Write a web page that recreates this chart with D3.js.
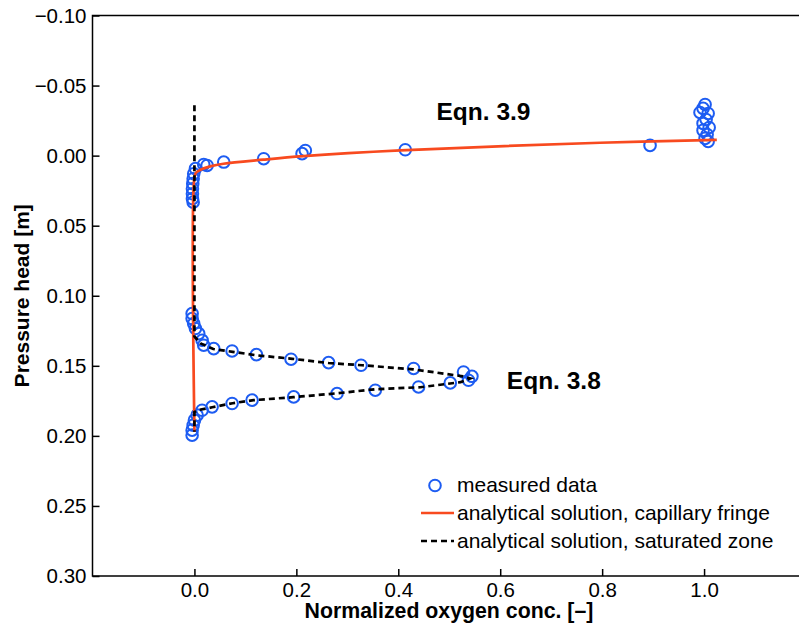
<!DOCTYPE html>
<html><head><meta charset="utf-8">
<script src="https://cdn.jsdelivr.net/npm/d3@7"></script>
<style>body{margin:0;background:#fff}svg{display:block}text{font-family:"Liberation Sans",Arial,Helvetica,sans-serif}</style>
</head><body><svg id="c" width="799" height="625"></svg>
<script>
// measured data
const measC = [0.002,-0.0014,-0.0025,-0.0033,-0.0039,-0.0039,-0.0039,-0.0025,0.0182,0.0249,0.0575,0.1359,0.2112,0.2176,0.4137,0.894,
  1.002,0.998,1.008,0.992,1.004,0.998,1.010,0.998,1.006,1.002,1.008,
  -0.0045,-0.0045,-0.0014,0.002,0.0084,0.0151,0.0182,0.0378,0.0739,0.1216,0.1896,0.2633,0.3269,0.4300,0.5280,0.5445,0.5378,
  0.5020,0.4398,0.3549,0.2798,0.1947,0.1131,0.0739,0.0347,0.0151,0.0053,0,-0.0025,-0.0045,-0.0045];
const measP = [0.0093,0.0129,0.0165,0.0200,0.0236,0.0272,0.0307,0.0332,0.0063,0.0070,0.0046,0.0022,-0.0014,-0.0037,-0.0042,-0.0073,
  -0.0365,-0.0337,-0.0301,-0.0308,-0.0258,-0.0230,-0.0201,-0.0180,-0.0151,-0.0123,-0.0101,
  0.1127,0.1163,0.1199,0.1234,0.1270,0.1318,0.1353,0.1377,0.1394,0.1420,0.1453,0.1477,0.1496,0.1519,0.1544,0.1575,0.1603,
  0.1622,0.1651,0.1674,0.1698,0.1722,0.1745,0.1769,0.1793,0.1817,0.1852,0.1888,0.1924,0.1959,0.1995];
// analytical solution, capillary fringe
const capC = [0,0,0.003,0.0118,0.031,0.057,0.135,0.214,0.404,0.796,1.025];
const capP = [0.197,0.0153,0.0122,0.0101,0.0077,0.0058,0.0029,0.0004,-0.0037,-0.0092,-0.0113];
// analytical solution, saturated zone
const satC = [0,0,0.012,0.037,0.075,0.122,0.192,0.263,0.329,0.429,0.527,0.541,0.522,0.443,0.355,0.280,0.194,0.116,0.075,0.035,0.006,0,0];
const satP = [-0.036,0.129,0.134,0.138,0.140,0.1425,0.145,0.148,0.1496,0.1525,0.1575,0.159,0.1617,0.1653,0.1667,0.1696,0.1724,0.1745,0.1767,0.1796,0.1817,0.183,0.197];
const xTicks = [0,0.2,0.4,0.6,0.8,1.0];
const yTicks = [-0.10,-0.05,0,0.05,0.10,0.15,0.20,0.25,0.30];
const legendLabels = ["measured data","analytical solution, capillary fringe","analytical solution, saturated zone"];
const annotations = [{t:"Eqn. 3.9",c:0.475,p:-0.0255},{t:"Eqn. 3.8",c:0.613,p:0.1665}];

const svg = d3.select("#c");
const L=92.5,R=806,T=15.5,B=576;
const x = d3.scaleLinear().domain([-0.2,1.2]).range([L,R]);
const y = d3.scaleLinear().domain([-0.10,0.30]).range([T,B]);
const blue="#1d5cf2", red="#f84a1f";

const g = svg.append("g");
g.selectAll("circle.m").data(measC.map((c,i)=>[c,measP[i]])).join("circle")
  .attr("cx",d=>x(d[0])).attr("cy",d=>y(d[1])).attr("r",5.8)
  .attr("fill","none").attr("stroke",blue).attr("stroke-width",2);
const line = d3.line().x(d=>x(d[0])).y(d=>y(d[1]));
g.append("path").datum(capC.map((c,i)=>[c,capP[i]]))
  .attr("d",line.curve(d3.curveCatmullRom)).attr("fill","none").attr("stroke",red).attr("stroke-width",2.7);
g.append("path").datum(satC.map((c,i)=>[c,satP[i]]))
  .attr("d",d3.line().x(d=>x(d[0])).y(d=>y(d[1]))).attr("fill","none").attr("stroke","#000")
  .attr("stroke-width",2.7).attr("stroke-dasharray","6,4");

svg.append("rect").attr("x",L).attr("y",T).attr("width",R-L).attr("height",B-T)
  .attr("fill","none").attr("stroke","#000").attr("stroke-width",1.5);
const xa = svg.append("g").attr("transform",`translate(0,${B})`)
  .call(d3.axisBottom(x).tickValues(xTicks).tickSizeInner(-7).tickSizeOuter(0).tickPadding(6).tickFormat(d3.format(".1f")));
xa.select(".domain").remove();
xa.selectAll("line").attr("stroke-width",1.5);
xa.selectAll("text").attr("font-size",20.5).attr("fill","#000");
const ya = svg.append("g").attr("transform",`translate(${L},0)`)
  .call(d3.axisLeft(y).tickValues(yTicks).tickSizeInner(-7).tickSizeOuter(0).tickPadding(6)
  .tickFormat(d=>(d<0?"\u2212":"")+d3.format(".2f")(Math.abs(d))));
ya.select(".domain").remove();
ya.selectAll("line").attr("stroke-width",1.5);
ya.selectAll("text").attr("font-size",20.5).attr("fill","#000");

svg.append("text").attr("x",449).attr("y",618).attr("text-anchor","middle")
  .attr("font-size",21.3).attr("font-weight","bold").text("Normalized oxygen conc. [\u2013]");
svg.append("text").attr("transform",`translate(29,${(T+B)/2}) rotate(-90)`).attr("text-anchor","middle")
  .attr("font-size",21).attr("font-weight","bold").text("Pressure head [m]");

svg.selectAll("text.ann").data(annotations).join("text").attr("class","ann")
  .attr("x",d=>x(d.c)).attr("y",d=>y(d.p)).attr("font-size",24.5).attr("font-weight","bold").text(d=>d.t);

const lg = svg.append("g");
const ly=[491.7,520,547.7];
lg.append("circle").attr("cx",435).attr("cy",485.5).attr("r",5.8).attr("fill","none").attr("stroke",blue).attr("stroke-width",2);
lg.append("line").attr("x1",421).attr("x2",454).attr("y1",513).attr("y2",513).attr("stroke",red).attr("stroke-width",2.7);
lg.append("line").attr("x1",421).attr("x2",454).attr("y1",541).attr("y2",541).attr("stroke","#000").attr("stroke-width",2.7).attr("stroke-dasharray","6,4");
lg.selectAll("text").data(legendLabels).join("text").attr("x",457).attr("y",(d,i)=>ly[i]).attr("font-size",21).text(d=>d);
</script></body></html>
